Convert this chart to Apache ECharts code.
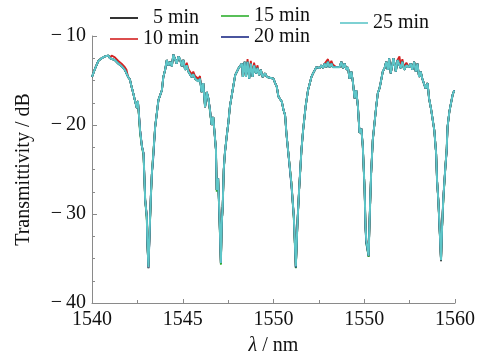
<!DOCTYPE html>
<html>
<head>
<meta charset="utf-8">
<script src="https://cdn.jsdelivr.net/npm/echarts@6/dist/echarts.min.js"></script>
<style>html,body{margin:0;padding:0;background:#fff;}#c{width:487px;height:353px;}</style>
</head>
<body>
<div id="c"></div>
<script>
const wavelength = [
1540.00,1540.18,1540.35,1540.53,1540.71,1540.80,1540.90,1540.99,1541.08,1541.26,1541.45,1541.63,1541.81,1541.90,1541.99,
1542.09,1542.18,1542.27,1542.36,1542.47,1542.53,1542.65,1542.75,1542.84,1542.93,1543.02,1543.05,1543.11,1543.16,1543.24,1543.30,1543.38,1543.48,1543.66,1543.75,1543.85,1543.93,
1544.03,1544.12,1544.21,1544.30,1544.40,1544.48,1544.58,1544.67,1544.76,1544.85,1544.95,1545.03,1545.13,1545.22,1545.31,1545.40,1545.49,1545.58,1545.68,1545.77,1545.86,1545.95,1546.04,1546.13,1546.23,1546.32,1546.41,1546.50,
1546.59,1546.68,1546.83,1546.87,1546.95,1547.02,1547.10,1547.15,1547.20,1547.26,1547.32,1547.42,1547.51,1547.60,1547.78,1547.89,1547.97,
1548.08,1548.16,1548.26,1548.31,1548.41,1548.48,1548.57,1548.66,1548.75,1548.85,1548.93,1549.03,1549.12,1549.21,1549.30,1549.40,1549.54,1549.63,1549.73,1549.82,1549.91,1550.00,1550.09,1550.18,1550.27,1550.36,1550.46,1550.55,1550.64,
1550.71,1550.80,1550.99,1551.12,1551.23,1551.32,1551.41,1551.54,1551.63,1551.77,1551.90,1551.99,1552.09,
1552.18,1552.27,1552.36,1552.45,1552.54,1552.64,1552.73,1552.82,1552.91,1553.00,1553.09,1553.19,1553.27,1553.37,1553.46,1553.55,1553.64,1553.74,1553.82,1553.92,1554.01,1554.10,1554.19,1554.29,1554.37,1554.47,
1554.56,1554.65,1554.74,1554.84,1554.92,1555.02,1555.07,1555.11,1555.24,1555.29,1555.38,1555.47,1555.66,1555.75,1555.84,1555.91,1556.02,
1556.12,1556.21,1556.30,1556.37,1556.46,1556.61,1556.74,1556.83,1556.94,1557.01,1557.10,1557.20,1557.32,1557.47,1557.56,1557.65,1557.75,1557.84,1557.93,1558.02,1558.11,1558.20,1558.29,1558.38,1558.49,1558.57,1558.68,1558.77,
1558.86,1558.96,1559.01,1559.08,1559.14,1559.23,1559.29,1559.36,1559.47,1559.54,1559.59,1559.69,1559.78,1559.87,1559.96
];

const min5 = [
-14.6,-13.6,-12.8,-12.5,-12.3,-12.5,-12.2,-12.5,-12.4,-12.7,-13.1,-13.4,-13.8,-14.0,-14.6,
-14.9,-15.7,-16.4,-17.2,-18.1,-17.3,-20.6,-22.4,-23.2,-28.4,-30.3,-33.1,-36.1,-32.9,-28.1,-25.4,-23.2,-20.2,-17.2,-17.0,-16.1,-14.6,
-13.8,-12.7,-13.3,-12.9,-13.4,-12.1,-11.9,-13.1,-12.3,-12.6,-13.4,-12.7,-13.8,-13.3,-14.0,-13.9,-14.6,-14.3,-14.8,-14.6,-15.1,-14.8,-16.3,-15.3,-18.0,-16.3,-17.0,-18.3,
-20.0,-19.1,-22.8,-27.3,-26.0,-30.0,-35.6,-31.0,-29.2,-25.0,-23.2,-21.3,-19.8,-17.9,-15.7,-14.4,-14.2,
-13.6,-13.5,-13.1,-14.6,-12.9,-14.6,-12.9,-14.8,-13.1,-14.6,-13.3,-14.2,-13.6,-14.4,-13.8,-14.6,-14.2,-14.6,-14.4,-14.7,-14.6,-14.8,-15.3,-15.7,-16.8,-16.9,-17.4,-18.3,-18.9,
-20.9,-22.8,-26.6,-30.3,-36.0,-31.0,-27.3,-22.8,-20.6,-17.9,-16.1,-15.4,-14.6,
-14.2,-14.0,-13.5,-13.3,-13.6,-13.3,-13.6,-13.1,-13.5,-12.9,-13.5,-13.1,-13.5,-13.3,-13.5,-13.3,-13.5,-12.9,-13.6,-13.1,-13.8,-13.5,-14.8,-14.0,-15.1,-17.0,
-16.1,-17.9,-20.9,-20.4,-22.4,-27.3,-31.4,-32.9,-34.8,-31.0,-25.4,-21.7,-17.9,-16.4,-15.9,-15.2,-14.0,
-13.6,-12.9,-13.8,-12.5,-14.2,-12.5,-14.0,-12.7,-12.6,-13.6,-12.9,-13.8,-13.3,-13.5,-13.1,-13.8,-12.9,-14.0,-13.1,-14.6,-14.0,-14.8,-14.9,-15.9,-15.3,-17.0,-18.2,-18.1,
-20.6,-23.2,-26.2,-28.4,-31.0,-35.3,-31.4,-28.1,-24.7,-22.8,-20.2,-18.5,-18.3,-16.6,-16.1
];

const min10 = [
-14.6,-13.6,-12.8,-12.5,-12.3,-12.5,-12.2,-12.5,-12.2,-12.4,-12.8,-13.1,-13.5,-13.8,-14.6,
-14.9,-15.7,-16.4,-17.2,-18.1,-17.3,-20.6,-22.4,-23.2,-28.4,-30.3,-32.9,-36.0,-32.9,-28.1,-25.4,-23.2,-20.2,-17.2,-17.0,-16.1,-14.6,
-13.8,-12.7,-13.3,-12.9,-13.4,-12.1,-11.9,-13.1,-12.3,-12.6,-13.4,-12.7,-13.5,-13.0,-13.7,-13.6,-14.3,-14.0,-14.5,-14.3,-14.8,-14.5,-16.3,-15.3,-18.0,-16.3,-17.0,-18.3,
-20.0,-19.1,-22.8,-27.3,-26.0,-30.0,-35.5,-31.0,-29.2,-25.0,-23.2,-21.3,-19.8,-17.9,-15.7,-14.4,-14.2,
-13.6,-13.5,-13.1,-14.6,-12.9,-14.6,-12.6,-14.5,-12.8,-14.3,-13.0,-13.9,-13.3,-14.4,-13.8,-14.6,-14.2,-14.6,-14.4,-14.7,-14.6,-14.8,-15.3,-15.7,-16.8,-16.9,-17.4,-18.3,-18.9,
-20.9,-22.8,-26.6,-30.3,-35.9,-31.0,-27.3,-22.8,-20.6,-17.9,-16.1,-15.4,-14.6,
-14.2,-14.0,-13.5,-13.3,-13.6,-13.3,-13.6,-13.1,-13.2,-12.6,-13.2,-12.8,-13.2,-13.0,-13.5,-13.3,-13.5,-12.9,-13.6,-13.1,-13.8,-13.5,-14.8,-14.0,-15.1,-17.0,
-16.1,-17.9,-20.9,-20.4,-22.4,-27.3,-31.4,-32.9,-34.7,-31.0,-25.4,-21.7,-17.9,-16.4,-15.9,-15.2,-14.0,
-13.6,-12.9,-13.8,-12.5,-14.2,-12.5,-14.0,-12.7,-12.3,-13.3,-12.6,-13.5,-13.0,-13.5,-13.1,-13.8,-12.9,-14.0,-13.1,-14.6,-14.0,-14.8,-14.9,-15.9,-15.3,-17.0,-18.2,-18.1,
-20.6,-23.2,-26.2,-28.4,-31.0,-35.2,-31.4,-28.1,-24.7,-22.8,-20.2,-18.5,-18.3,-16.6,-16.1
];

const min15 = [
-14.6,-13.6,-12.8,-12.5,-12.3,-12.5,-12.2,-12.5,-12.4,-12.7,-13.1,-13.4,-13.8,-14.0,-14.6,
-14.9,-15.7,-16.4,-17.2,-18.1,-17.3,-21.0,-22.4,-23.5,-28.4,-30.7,-33.4,-35.8,-32.9,-28.5,-25.4,-23.2,-20.2,-17.2,-17.0,-16.1,-14.6,
-13.8,-12.7,-13.3,-12.9,-13.4,-12.1,-11.9,-13.1,-12.3,-12.6,-13.4,-12.7,-13.8,-13.3,-14.0,-13.9,-14.6,-14.3,-14.8,-14.6,-15.1,-14.8,-16.3,-15.3,-18.0,-16.3,-17.0,-18.5,
-20.0,-19.1,-22.8,-27.5,-26.0,-30.5,-35.7,-31.0,-29.2,-25.0,-23.2,-21.3,-19.8,-17.9,-15.7,-14.4,-14.2,
-13.6,-13.5,-13.1,-14.6,-12.9,-14.6,-12.9,-14.8,-13.1,-14.6,-13.3,-14.2,-13.6,-14.4,-13.8,-14.6,-14.2,-14.6,-14.4,-14.7,-14.6,-14.8,-15.3,-15.7,-16.8,-16.9,-17.4,-18.3,-18.9,
-20.9,-22.8,-26.6,-30.6,-36.1,-31.0,-27.3,-22.8,-20.6,-17.9,-16.1,-15.4,-14.6,
-14.2,-14.0,-13.5,-13.3,-13.6,-13.3,-13.6,-13.1,-13.5,-12.9,-13.5,-13.1,-13.5,-13.3,-13.5,-13.3,-13.5,-12.9,-13.6,-13.1,-13.8,-13.5,-14.8,-14.0,-15.1,-17.0,
-16.1,-17.9,-20.9,-20.4,-22.4,-27.3,-31.4,-33.3,-34.8,-31.0,-25.4,-21.7,-17.9,-16.4,-15.9,-15.2,-14.0,
-13.6,-12.9,-13.8,-12.5,-14.2,-12.5,-14.0,-12.7,-12.6,-13.6,-12.9,-13.8,-13.3,-13.5,-13.1,-13.8,-12.9,-14.0,-13.1,-14.6,-14.0,-14.8,-14.9,-15.9,-15.3,-17.0,-18.2,-18.1,
-20.6,-23.2,-26.2,-28.4,-31.3,-35.2,-31.4,-28.4,-24.7,-22.8,-20.2,-18.5,-18.3,-16.6,-16.1
];

const min20 = [
-14.6,-13.6,-12.8,-12.5,-12.3,-12.5,-12.2,-12.5,-12.4,-12.7,-13.1,-13.4,-13.8,-14.0,-14.6,
-14.9,-15.7,-16.4,-17.2,-18.1,-17.3,-20.6,-22.4,-23.2,-28.4,-30.3,-33.3,-36.0,-33.2,-28.1,-25.4,-23.6,-20.2,-17.2,-17.0,-16.1,-14.6,
-13.8,-12.7,-13.3,-12.9,-13.4,-12.1,-11.9,-13.1,-12.3,-12.6,-13.4,-12.7,-13.8,-13.3,-14.0,-13.9,-14.6,-14.3,-14.8,-14.6,-15.1,-14.8,-16.3,-15.3,-18.0,-16.3,-17.0,-18.3,
-20.0,-19.1,-22.8,-27.3,-26.0,-30.4,-35.5,-31.0,-29.2,-25.0,-23.2,-21.3,-19.8,-17.9,-15.7,-14.4,-14.2,
-13.6,-13.5,-13.1,-14.6,-12.9,-14.6,-12.9,-14.8,-13.1,-14.6,-13.3,-14.2,-13.6,-14.4,-13.8,-14.6,-14.2,-14.6,-14.4,-14.7,-14.6,-14.8,-15.3,-15.7,-16.8,-16.9,-17.4,-18.3,-18.9,
-20.9,-22.8,-26.9,-30.3,-36.0,-31.0,-27.3,-22.8,-20.6,-17.9,-16.1,-15.4,-14.6,
-14.2,-14.0,-13.5,-13.3,-13.6,-13.3,-13.6,-13.1,-13.5,-12.9,-13.5,-13.1,-13.5,-13.3,-13.5,-13.3,-13.5,-12.9,-13.6,-13.1,-13.8,-13.5,-14.8,-14.0,-15.1,-17.0,
-16.1,-17.9,-20.9,-20.4,-22.4,-27.3,-31.7,-33.2,-34.7,-31.0,-25.4,-21.7,-17.9,-16.4,-15.9,-15.2,-14.0,
-13.6,-12.9,-13.8,-12.5,-14.2,-12.5,-14.0,-12.7,-12.6,-13.6,-12.9,-13.8,-13.3,-13.5,-13.1,-13.8,-12.9,-14.0,-13.1,-14.6,-14.0,-14.8,-14.9,-15.9,-15.3,-17.0,-18.2,-18.1,
-20.6,-23.2,-26.2,-28.4,-31.3,-35.2,-31.4,-28.1,-24.7,-23.0,-20.2,-18.5,-18.3,-16.6,-16.1
];

const min25 = [
-14.6,-13.6,-12.8,-12.5,-12.3,-12.5,-12.2,-12.5,-12.4,-12.7,-13.1,-13.4,-13.8,-14.0,-14.6,
-14.9,-15.7,-16.4,-17.2,-18.1,-17.3,-20.6,-22.4,-23.2,-28.4,-30.3,-32.9,-36.0,-32.9,-28.1,-25.4,-23.2,-20.2,-17.2,-17.0,-16.1,-14.6,
-13.8,-12.7,-13.3,-12.9,-13.4,-12.1,-11.9,-13.1,-12.3,-12.6,-13.4,-12.7,-13.8,-13.3,-14.0,-13.9,-14.6,-14.3,-14.8,-14.6,-15.1,-14.8,-16.3,-15.3,-18.0,-16.3,-17.0,-18.3,
-20.0,-19.1,-22.8,-27.3,-26.0,-30.0,-35.5,-31.0,-29.2,-25.0,-23.2,-21.3,-19.8,-17.9,-15.7,-14.4,-14.2,
-13.6,-13.5,-13.1,-14.6,-12.9,-14.6,-12.9,-14.8,-13.1,-14.6,-13.3,-14.2,-13.6,-14.4,-13.8,-14.6,-14.2,-14.6,-14.4,-14.7,-14.6,-14.8,-15.3,-15.7,-16.8,-16.9,-17.4,-18.3,-18.9,
-20.9,-22.8,-26.6,-30.3,-35.9,-31.0,-27.3,-22.8,-20.6,-17.9,-16.1,-15.4,-14.6,
-14.2,-14.0,-13.5,-13.3,-13.6,-13.3,-13.6,-13.1,-13.5,-12.9,-13.5,-13.1,-13.5,-13.3,-13.5,-13.3,-13.5,-12.9,-13.6,-13.1,-13.8,-13.5,-14.8,-14.0,-15.1,-17.0,
-16.1,-17.9,-20.9,-20.4,-22.4,-27.3,-31.4,-32.9,-34.7,-31.0,-25.4,-21.7,-17.9,-16.4,-15.9,-15.2,-14.0,
-13.6,-12.9,-13.8,-12.5,-14.2,-12.5,-14.0,-12.7,-12.6,-13.6,-12.9,-13.8,-13.3,-13.5,-13.1,-13.8,-12.9,-14.0,-13.1,-14.6,-14.0,-14.8,-14.9,-15.9,-15.3,-17.0,-18.2,-18.1,
-20.6,-23.2,-26.2,-28.4,-31.0,-35.2,-31.4,-28.1,-24.7,-22.8,-20.2,-18.5,-18.3,-16.6,-16.1
];

const seriesNames = ['5 min', '10 min', '15 min', '20 min', '25 min'];
const xTickValues = [1540, 1545, 1550, 1555, 1560];
const xTickLabels = ['1540', '1545', '1550', '1550', '1560'];
const yTickValues = [-40, -30, -20, -10];
const yTickLabels = ['\u2212\u200940', '\u2212\u200930', '\u2212\u200920', '\u2212\u200910'];

const FONT = '"Liberation Serif", "Times New Roman", serif';
const colors = ['#000000', '#d42020', '#2fb02f', '#1c2a86', '#5ec6c8'];
const ys = [min5, min10, min15, min20, min25];

const chart = echarts.init(document.getElementById('c'), null, {renderer: 'canvas'});

const legendCommon = {
  orient: 'vertical',
  icon: 'rect',
  itemWidth: 28,
  itemHeight: 1.6,
  itemGap: 1,
  padding: 0,
  textStyle: {fontFamily: FONT, fontSize: 20, color: '#111'},
  selectedMode: false
};

chart.setOption({
  animation: false,
  backgroundColor: '#fff',
  color: colors,
  legend: [
    Object.assign({}, legendCommon, {left: 110, top: 8, data: ['5 min', '10 min'],
      formatter: n => n === '5 min' ? '\u2002' + n : n}),
    Object.assign({}, legendCommon, {left: 221, top: 6, data: ['15 min', '20 min']}),
    Object.assign({}, legendCommon, {left: 340, top: 13, data: ['25 min']})
  ],
  grid: {left: 92, right: 32, top: 36, bottom: 50, containLabel: false, outerBoundsMode: 'none'},
  xAxis: {
    type: 'value', min: 1540, max: 1560, interval: 5,
    name: '{i|λ} / nm', nameLocation: 'middle', nameGap: 33,
    nameTextStyle: {fontFamily: FONT, fontSize: 20, color: '#111',
      rich: {i: {fontFamily: FONT, fontSize: 20, fontStyle: 'italic', color: '#111'}}},
    axisLine: {show: true, lineStyle: {color: '#8a8a8a', width: 1}},
    axisTick: {show: true, inside: true, length: 4, lineStyle: {color: '#8a8a8a'}},
    minorTick: {show: true, splitNumber: 2, length: 3, lineStyle: {color: '#8a8a8a'}},
    splitLine: {show: false},
    axisLabel: {fontFamily: FONT, fontSize: 20, color: '#111', margin: 7,
      formatter: v => { const i = xTickValues.indexOf(v); return i >= 0 ? xTickLabels[i] : ''; }}
  },
  yAxis: {
    type: 'value', min: -40, max: -10, interval: 10,
    name: 'Transmittivity / dB', nameLocation: 'middle', nameGap: 58,
    nameTextStyle: {fontFamily: FONT, fontSize: 20, color: '#111'},
    axisLine: {show: true, lineStyle: {color: '#8a8a8a', width: 1}},
    axisTick: {show: true, inside: true, length: 5, lineStyle: {color: '#8a8a8a'}},
    minorTick: {show: true, splitNumber: 4, length: 3, lineStyle: {color: '#8a8a8a'}},
    splitLine: {show: false},
    axisLabel: {fontFamily: FONT, fontSize: 20, color: '#111', margin: 6,
      formatter: v => { const i = yTickValues.indexOf(v); return i >= 0 ? yTickLabels[i] : ''; }}
  },
  series: seriesNames.map((name, k) => ({
    name: name,
    type: 'line',
    data: wavelength.map((w, i) => [w, ys[k][i]]),
    showSymbol: false,
    symbol: 'none',
    lineStyle: {width: k === 4 ? 2 : 1.8, color: colors[k]},
    itemStyle: {color: colors[k]},
    z: 2 + k
  }))
});
</script>
</body>
</html>
